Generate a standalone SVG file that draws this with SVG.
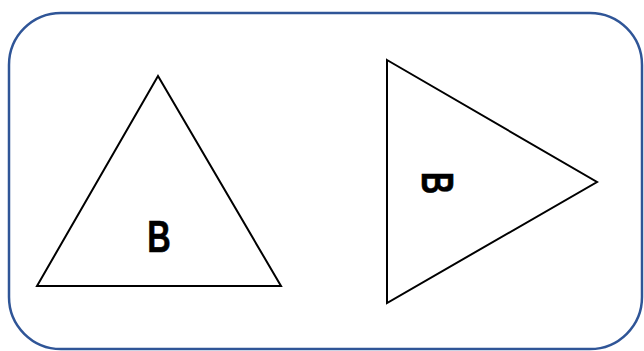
<svg xmlns="http://www.w3.org/2000/svg" width="644" height="351" viewBox="0 0 644 351">
<style>
.tri{fill:#fff;stroke:#000;stroke-width:2;stroke-linejoin:miter}
.lbl{font-family:"Liberation Sans",Arial,sans-serif;font-weight:bold;font-size:44px;fill:#000;text-anchor:middle;stroke:#000;stroke-width:0.6}
</style>
<rect x="9" y="13" width="633" height="336" rx="52" ry="52" fill="#fff" stroke="#2F5597" stroke-width="2.5"/>
<g id="triangle-left">
<polygon class="tri" points="158,76 37,286 281,286"/>
<text class="lbl" x="0" y="0" transform="translate(159 252) scale(0.74 1)">B</text>
</g>
<g id="triangle-right">
<polygon class="tri" points="387,60 597,182 387,303"/>
<text class="lbl" x="0" y="16" transform="translate(438 183) rotate(90) scale(0.7 1)">B</text>
</g>
<g id="connectors"></g>
</svg>
